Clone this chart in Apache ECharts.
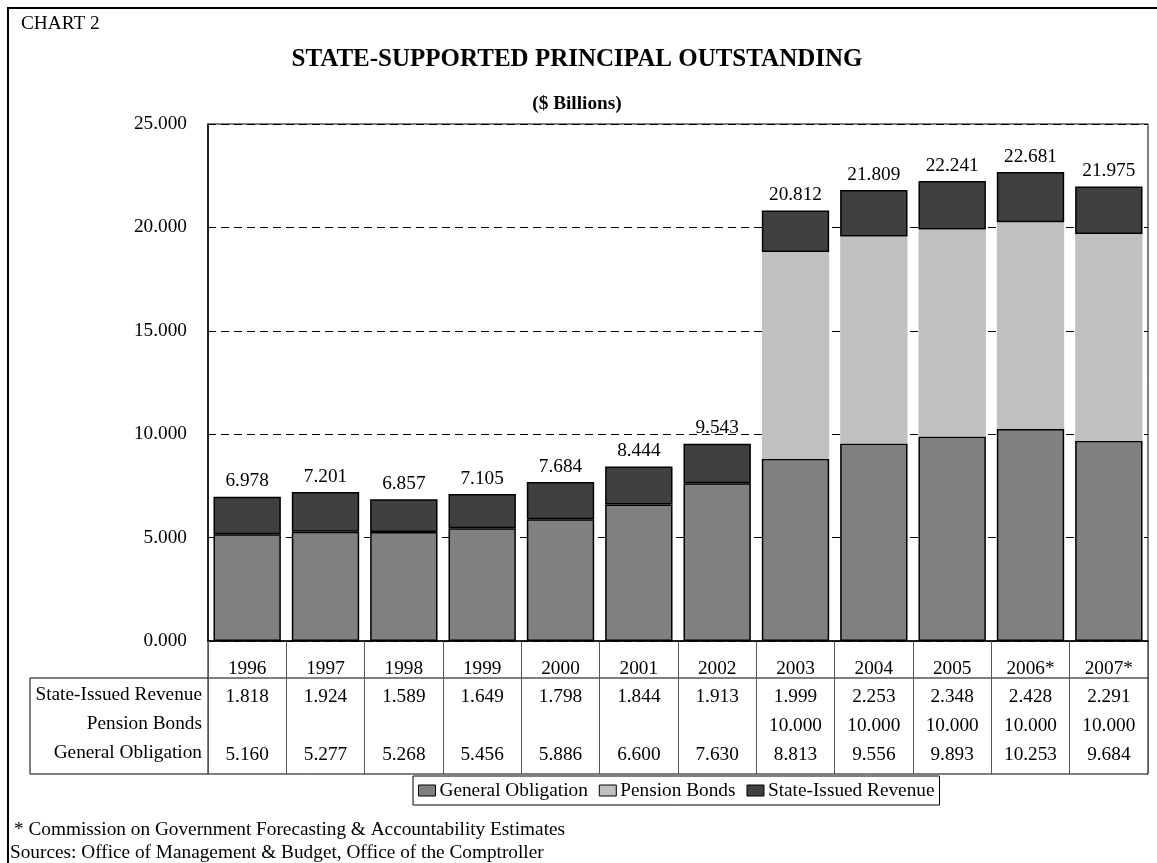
<!DOCTYPE html>
<html>
<head>
<meta charset="utf-8">
<title>State-Supported Principal Outstanding</title>
<script src="https://cdn.jsdelivr.net/npm/echarts@6/dist/echarts.min.js"></script>
<style>
  html, body { margin: 0; padding: 0; background: #fff; }
  #chart { width: 1157px; height: 863px; }
</style>
</head>
<body>
<div id="chart"></div>
<script>
// Fiscal years shown on the category axis (asterisk = estimate)
const years = ['1996', '1997', '1998', '1999', '2000', '2001', '2002', '2003', '2004', '2005', '2006*', '2007*'];

// Principal outstanding, $ billions
const generalObligation = [5.160, 5.277, 5.268, 5.456, 5.886, 6.600, 7.630, 8.813, 9.556, 9.893, 10.253, 9.684];
const pensionBonds = [null, null, null, null, null, null, null, 10.000, 10.000, 10.000, 10.000, 10.000];
const stateIssuedRevenue = [1.818, 1.924, 1.589, 1.649, 1.798, 1.844, 1.913, 1.999, 2.253, 2.348, 2.428, 2.291];

// Row labels of the data table under the axis
const tableRows = ['State-Issued Revenue', 'Pension Bonds', 'General Obligation'];

const FONT = '"Liberation Serif", "Times New Roman", serif';
const FS = 19.3;

// Totals printed above each stack
const totals = years.map((_, i) =>
  (generalObligation[i] || 0) + (pensionBonds[i] || 0) + (stateIssuedRevenue[i] || 0));

const fmt = v => (v == null ? '\u00a0' : v.toFixed(3));

// Plot rectangle
const G = { left: 208, top: 124, right: 1148, bottom: 641 };
const TABLE = { left: 30, headerBottom: 678, bottom: 774 };
const ROW_Y = [695, 724, 753];

const chart = echarts.init(document.getElementById('chart'), null, { renderer: 'canvas' });

const graphics = [
  // outer frame
  { type: 'rect', shape: { x: 8, y: 8, width: 1160, height: 870 },
    style: { fill: null, stroke: '#000', lineWidth: 2 }, silent: true },
  { type: 'text', left: 21, top: 14,
    style: { text: 'CHART 2', font: `${FS}px ${FONT}`, fill: '#000' } },
  // data table rules
  { type: 'line', shape: { x1: TABLE.left, y1: TABLE.headerBottom, x2: G.right, y2: TABLE.headerBottom },
    style: { stroke: '#000', lineWidth: 1 } },
  { type: 'line', shape: { x1: TABLE.left, y1: TABLE.bottom, x2: G.right, y2: TABLE.bottom },
    style: { stroke: '#000', lineWidth: 1 } },
  { type: 'line', shape: { x1: TABLE.left, y1: TABLE.headerBottom, x2: TABLE.left, y2: TABLE.bottom },
    style: { stroke: '#000', lineWidth: 1 } },
  { type: 'line', shape: { x1: G.left, y1: G.bottom, x2: G.left, y2: TABLE.bottom },
    style: { stroke: '#000', lineWidth: 1 } },
  { type: 'line', shape: { x1: G.right, y1: G.bottom, x2: G.right, y2: TABLE.bottom },
    style: { stroke: '#000', lineWidth: 1 } },
  // footnotes
  { type: 'text', left: 14, top: 820,
    style: { text: '* Commission on Government Forecasting & Accountability Estimates', font: `${FS}px ${FONT}`, fill: '#000' } },
  { type: 'text', left: 10, top: 843,
    style: { text: 'Sources: Office of Management & Budget, Office of the Comptroller', font: `${FS}px ${FONT}`, fill: '#000' } }
];
tableRows.forEach((name, i) => {
  graphics.push({
    type: 'text', x: 202, y: ROW_Y[i],
    style: { text: name, font: `${FS}px ${FONT}`, fill: '#000', align: 'right', verticalAlign: 'middle' }
  });
});

const option = {
  backgroundColor: '#fff',
  animation: false,
  title: [
    { text: 'STATE-SUPPORTED PRINCIPAL OUTSTANDING', left: 572, top: 42, textAlign: 'center',
      textStyle: { fontFamily: FONT, fontWeight: 'bold', fontSize: 25, color: '#000' } },
    { text: '($ Billions)', left: 572, top: 90, textAlign: 'center',
      textStyle: { fontFamily: FONT, fontWeight: 'bold', fontSize: FS, color: '#000' } }
  ],
  legend: {
    left: 413, top: 776,
    data: ['General Obligation', 'Pension Bonds', 'State-Issued Revenue'],
    icon: 'rect', itemWidth: 17, itemHeight: 11, itemGap: 11,
    padding: [5, 5, 5, 5],
    borderColor: '#000', borderWidth: 1,
    itemStyle: { borderColor: '#000', borderWidth: 1 },
    textStyle: { fontFamily: FONT, fontSize: FS, color: '#000', padding: [0, 0, 0, -1] }
  },
  grid: {
    left: G.left, top: G.top, right: 1157 - G.right, bottom: 863 - G.bottom,
    show: true, borderColor: '#000', borderWidth: 1
  },
  xAxis: {
    type: 'category',
    data: years,
    axisLine: { lineStyle: { color: '#000', width: 1.5 } },
    axisTick: { show: true, interval: 0, length: TABLE.bottom - G.bottom, lineStyle: { color: '#555', width: 1 } },
    axisLabel: {
      interval: 0, margin: 15,
      formatter: (val, i) => [
        `{y|${val}}`,
        `{v|${fmt(stateIssuedRevenue[i])}}`,
        `{v|${fmt(pensionBonds[i])}}`,
        `{v|${fmt(generalObligation[i])}}`
      ].join('\n'),
      rich: {
        y: { fontFamily: FONT, fontSize: FS, color: '#000', lineHeight: 26 },
        v: { fontFamily: FONT, fontSize: FS, color: '#000', lineHeight: 29 }
      }
    }
  },
  yAxis: {
    type: 'value', min: 0, max: 25, interval: 5,
    axisLine: { show: true, lineStyle: { color: '#000', width: 1.5 } },
    axisTick: { show: false },
    axisLabel: { formatter: v => v.toFixed(3), margin: 21, fontFamily: FONT, fontSize: FS, color: '#000' },
    splitLine: { show: true, lineStyle: { color: '#000', width: 1, type: [8, 5] } }
  },
  series: [
    {
      name: 'General Obligation', type: 'bar', stack: 'total', barWidth: '86%',
      data: generalObligation,
      itemStyle: { color: '#808080', borderColor: '#000', borderWidth: 1.5 }
    },
    {
      name: 'Pension Bonds', type: 'bar', stack: 'total',
      data: pensionBonds,
      itemStyle: { color: '#c0c0c0', borderWidth: 0 }
    },
    {
      name: 'State-Issued Revenue', type: 'bar', stack: 'total',
      data: stateIssuedRevenue,
      itemStyle: { color: '#404040', borderColor: '#000', borderWidth: 1.5 },
      label: {
        show: true, position: 'top', distance: 6,
        formatter: p => totals[p.dataIndex].toFixed(3),
        fontFamily: FONT, fontSize: FS, color: '#000'
      }
    }
  ],
  graphic: graphics
};

chart.setOption(option);
</script>
</body>
</html>
